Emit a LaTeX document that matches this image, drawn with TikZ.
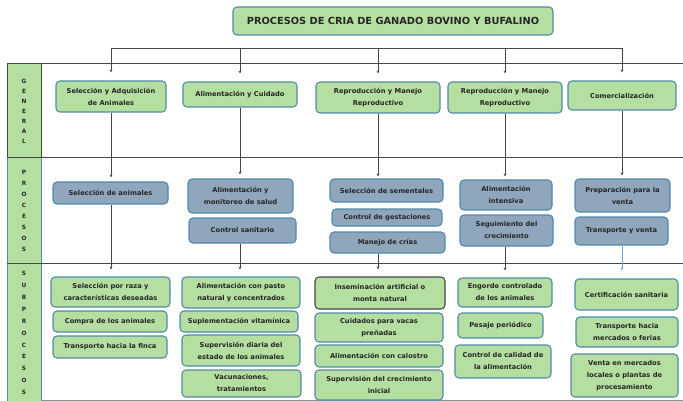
\documentclass[tikz,border=0pt]{standalone}
\usepackage{fontspec}
\setmainfont{DejaVu Sans}
\usepackage{tikz}
\usetikzlibrary{arrows.meta,calc}
\definecolor{bxgreen}{RGB}{180,223,160}
\definecolor{bxslate}{RGB}{143,166,188}
\definecolor{bxedge}{RGB}{80,138,172}
\definecolor{lnedge}{RGB}{70,70,70}
\definecolor{lnblue}{RGB}{110,168,215}

\begin{document}
\begin{tikzpicture}[x=1pt,y=-1pt,
  box/.style={draw=bxedge, line width=1.1pt, rounded corners=4pt, align=center,
    inner sep=1pt, text=black!85, font=\fontsize{6.7}{12}\selectfont\bfseries},
  genbox/.style={box, fill=bxgreen},
  procbox/.style={box, fill=bxslate},
  bandtxt/.style={align=center, inner sep=0pt, text=black!85},
  link/.style={draw=lnedge, line width=0.9pt, -{Stealth[length=3pt,width=3pt]}}]
\useasboundingbox (0,0) rectangle (683,401);
% side bands and row lines
\fill[bxgreen] (7,64) rectangle (41,401);
\draw[lnedge, line width=1pt] (7,64) rectangle (41,158);
\draw[bxedge, line width=1pt] (7,158) rectangle (41,263) (7,263) -- (7,401) (41,263) -- (41,401);
\foreach \y in {64,158,263} {
  \draw[lnedge, line width=1pt] (7,\y) -- (683,\y);
}
\draw[lnedge!60, line width=0.8pt] (41,400) -- (683,400);
\node[bandtxt, font=\fontsize{5.8}{10}\selectfont\bfseries] (lgen) at (24,111) {G\\E\\N\\E\\R\\A\\L};
\node[bandtxt, font=\fontsize{5.8}{11}\selectfont\bfseries] (lproc) at (24,211) {P\\R\\O\\C\\E\\S\\O\\S};
\node[bandtxt, font=\fontsize{5.8}{11.9}\selectfont\bfseries] (lsub) at (24,333) {S\\U\\B\\P\\R\\O\\C\\E\\S\\O\\S};
% title
\node[genbox, minimum width=320pt, minimum height=28pt, font=\fontsize{9.8}{12}\selectfont\bfseries] (title) at (393,21) {PROCESOS DE CRIA DE GANADO BOVINO Y BUFALINO};
% general
\foreach \nm/\cx/\cy/\w/\h/\txt in {
  g1/111/96.5/110/31/{Selección y Adquisición\\de Animales},
  g2/240/94.5/114/25/{Alimentación y Cuidado},
  g3/378/97.5/124/31/{Reproducción y Manejo\\Reproductivo},
  g4/505/97.5/114/31/{Reproducción y Manejo\\Reproductivo},
  g5/622/95.5/108/29/{Comercialización}} {
  \node[genbox, minimum width=\w pt, minimum height=\h pt] (\nm) at (\cx,\cy) {\txt};
}
% procesos
\foreach \nm/\cx/\cy/\w/\h/\txt in {
  p1/110.5/193/115/22/{Selección de animales},
  p2a/240.5/196/105/34/{Alimentación y\\monitoreo de salud},
  p2b/242.5/230.5/107/25/{Control sanitario},
  p3a/386.5/190.5/113/23/{Selección de sementales},
  p3b/387/217.5/110/17/{Control de gestaciones},
  p3c/387.5/242.5/115/21/{Manejo de crías},
  p4a/506/195/92/30/{Alimentación\\intensiva},
  p4b/506.5/230.5/93/31/{Seguimiento del\\crecimiento},
  p5a/622.5/195.5/95/33/{Preparación para la\\venta},
  p5b/621.5/231/93/28/{Transporte y venta}} {
  \node[procbox, minimum width=\w pt, minimum height=\h pt] (\nm) at (\cx,\cy) {\txt};
}
% subprocesos
\foreach \nm/\cx/\cy/\w/\h/\txt in {
  s1a/110.5/292/119/30/{Selección por raza y\\características deseadas},
  s1b/110/321.5/114/21/{Compra de los animales},
  s1c/110/347/114/22/{Transporte hacia la finca},
  s2a/241/292.5/118/31/{Alimentación con pasto\\natural y concentrados},
  s2b/239/321.5/118/21/{Suplementación vitamínica},
  s2c/241/350.5/118/31/{Supervisión diaria del\\estado de los animales},
  s2d/241.5/383.5/119/27/{Vacunaciones,\\tratamientos},
  s3b/379/327.5/128/29/{Cuidados para vacas\\preñadas},
  s3c/379/356/128/22/{Alimentación con calostro},
  s3d/379/385/128/30/{Supervisión del crecimiento\\inicial},
  s4a/505/292.5/94/29/{Engorde controlado\\de los animales},
  s4b/500.5/325.5/85/25/{Pesaje periódico},
  s4c/503/361.5/96/33/{Control de calidad de\\la alimentación},
  s5a/626.5/294.5/103/31/{Certificación sanitaria},
  s5b/627/332/102/30/{Transporte hacia\\mercados o ferias},
  s5c/624.5/375.5/107/43/{Venta en mercados\\locales o plantas de\\procesamiento}} {
  \node[genbox, minimum width=\w pt, minimum height=\h pt] (\nm) at (\cx,\cy) {\txt};
}
\node[genbox, draw=lnedge, minimum width=130pt, minimum height=32pt] (s3a) at (380,293) {Inseminación artificial o\\monta natural};
% bus from the title row
\coordinate (bus) at (0,48);
\draw[lnedge, line width=0.9pt] (g1 |- bus) -- (g5 |- bus);
\foreach \g in {g1,g2,g3,g4,g5} {
  \draw[link, shorten >=8pt] (\g |- bus) -- (\g.north);
}
% general -> procesos
\draw[link, shorten >=4pt] (g1.south) -- (g1.south |- p1.north);
\draw[link, shorten >=4pt] (g2.south) -- (g2.south |- p2a.north);
\draw[link, shorten >=2pt] (g3.south) -- (g3.south |- p3a.north);
\draw[link, shorten >=3pt] (g4.south) -- (g4.south |- p4a.north);
\draw[link, shorten >=3pt] (g5.south) -- (g5.south |- p5a.north);
% procesos -> subprocesos
\draw[link, shorten >=7pt] (g1 |- p1.south) -- (g1 |- s1a.north);
\draw[link, shorten >=7pt] (g2 |- p2b.south) -- (g2 |- s2a.north);
\draw[link, shorten >=7pt] (g3 |- p3c.south) -- (g3 |- s3a.north);
\draw[link, shorten >=7pt] (g4 |- p4b.south) -- (g4 |- s4a.north);
\draw[link, draw=lnblue, shorten >=8pt] (g5 |- p5b.south) -- (g5 |- s5a.north);
\end{tikzpicture}
\end{document}
